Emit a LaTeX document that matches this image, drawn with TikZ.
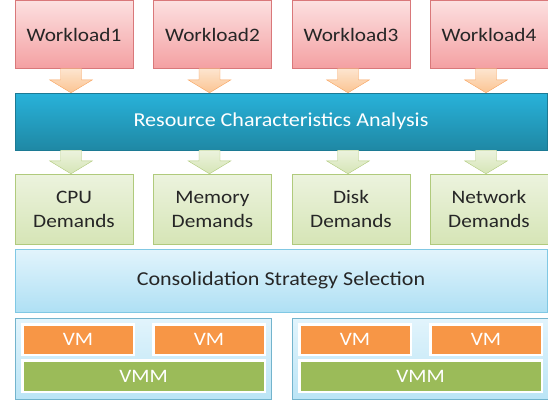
\documentclass[tikz,border=0pt]{standalone}
\usepackage{fontspec}
\setmainfont[FakeStretch=1.12]{Carlito}
\usetikzlibrary{calc}

\definecolor{wltop}{RGB}{252,224,224}
\definecolor{wlbot}{RGB}{244,160,162}
\definecolor{wlline}{RGB}{217,120,122}
\definecolor{ortop}{RGB}{253,229,207}
\definecolor{orbot}{RGB}{251,196,146}
\definecolor{orline}{RGB}{248,163,94}
\definecolor{rcatop}{RGB}{40,178,218}
\definecolor{rcabot}{RGB}{31,136,164}
\definecolor{grtop}{RGB}{236,243,222}
\definecolor{grbot}{RGB}{214,229,182}
\definecolor{grline}{RGB}{176,202,124}
\definecolor{cstop}{RGB}{226,244,252}
\definecolor{csbot}{RGB}{175,224,244}
\definecolor{csline}{RGB}{128,200,228}
\definecolor{vmorange}{RGB}{247,150,70}
\definecolor{vmmgreen}{RGB}{155,187,89}

\tikzset{
  box/.style={rectangle, inner sep=0pt, align=center, font=\fontsize{19}{24}\selectfont},
  widebox/.style={box, font=\fontsize{19.7}{24}\selectfont, minimum width=532pt},
  workload/.style={box, draw=wlline, top color=wltop, bottom color=wlbot,
    minimum width=118pt, minimum height=68pt, text=black!85},
  demand/.style={box, draw=grline, top color=grtop, bottom color=grbot,
    minimum width=118pt, minimum height=70pt, text=black!85},
  rcabar/.style={widebox, draw=rcabot!90!black, top color=rcatop, bottom color=rcabot,
    minimum height=57pt, text=white},
  consol/.style={widebox, draw=csline, top color=cstop, bottom color=csbot,
    minimum height=63pt, text=black!85},
  server/.style={box, draw=csline!90!black, top color=cstop, bottom color=csbot!85!white,
    minimum width=256pt, minimum height=81pt},
  vm/.style={box, draw=white, line width=2.5pt, fill=vmorange, text=white,
    minimum width=111.5pt, minimum height=30.5pt},
  vmm/.style={box, draw=white, line width=2.5pt, fill=vmmgreen, text=white,
    minimum width=242.5pt, minimum height=31.5pt},
  fatarrow/.style={to path={let \p1=(\tikztostart), \p2=(\tikztotarget) in
    (\x1-10.5pt,\y1) -- (\x1+10.5pt,\y1) -- (\x1+10.5pt,\y2+13pt) -- (\x1+21.5pt,\y2+13pt)
    -- (\x1,\y2) -- (\x1-21.5pt,\y2+13pt) -- (\x1-10.5pt,\y2+13pt) -- cycle}},
  orangearrow/.style={fatarrow, draw=orline, top color=ortop, bottom color=orbot},
  greenarrow/.style={fatarrow, draw=grline, top color=grtop, bottom color=grbot},
}

\begin{document}
\begin{tikzpicture}[x=1pt,y=-1pt]
\useasboundingbox (0,0) rectangle (548,402);

% workloads
\foreach \i/\x in {1/74, 2/212.5, 3/351, 4/489}
  \node[workload] (w\i) at (\x,34.5) {Workload\i};

% analysis bar
\node[rcabar] (rca) at (281,121.5) {Resource Characteristics Analysis};

% demands
\foreach \i/\x/\t in {1/74/CPU, 2/212.5/Memory, 3/351/Disk, 4/489/Network}
  \node[demand] (d\i) at (\x,209) {\t\\Demands};

% strategy
\node[consol] (css) at (281,280.5) {Consolidation Strategy Selection};

% arrows
\foreach \i in {1,...,4} {
  \draw[orangearrow] ([xshift=-3pt]w\i.south) to ([xshift=-3pt]w\i.south |- rca.north);
  \draw[greenarrow] ([xshift=-3pt]d\i.north |- rca.south) to ([xshift=-3pt]d\i.north);
}

% servers
\foreach \s/\dx in {1/0, 2/277} {
  \node[server] (srv\s) at (143+\dx,358.5) {};
  \node[vm] (vma\s) at (78+\dx,339.5) {VM};
  \node[vm] (vmb\s) at (209+\dx,339.5) {VM};
  \node[vmm] (vmm\s) at (143.5+\dx,376) {VMM};
}
\end{tikzpicture}
\end{document}
